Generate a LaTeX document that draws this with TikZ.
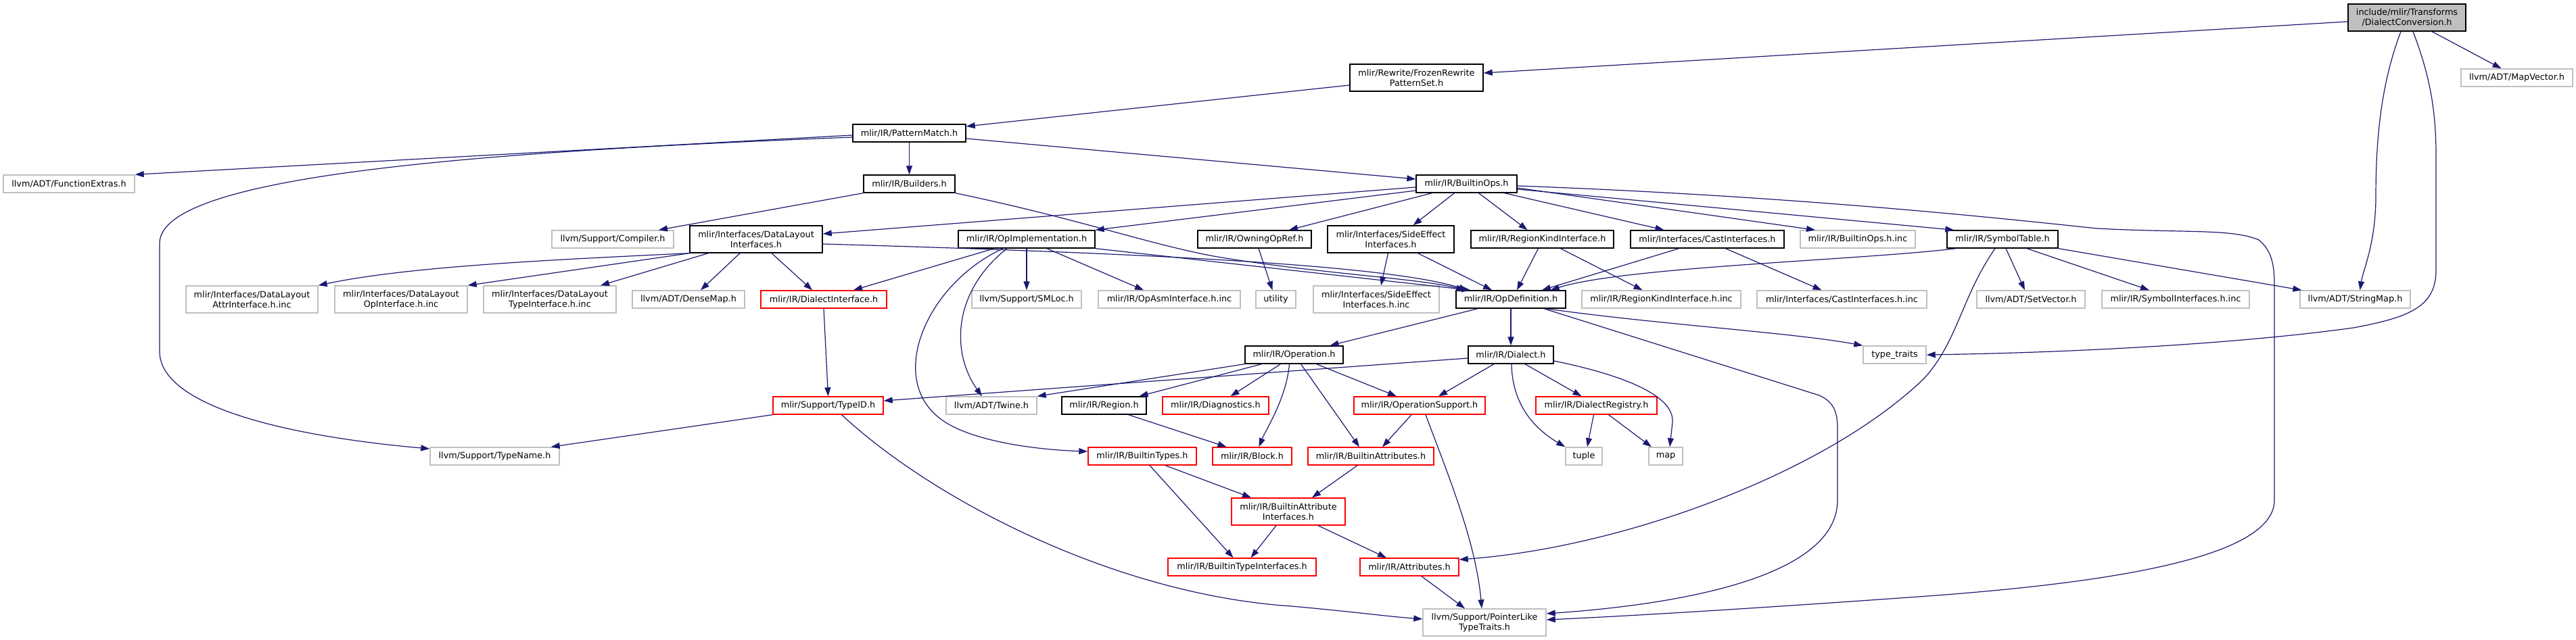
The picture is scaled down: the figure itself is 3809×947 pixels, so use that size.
\documentclass[tikz,border=0pt]{standalone}
\usepackage{fontspec}
\setmainfont{DejaVu Sans}
\usetikzlibrary{arrows.meta,calc}
\definecolor{edgeblue}{HTML}{191970}
\definecolor{boxgrey}{HTML}{BFBFBF}
\definecolor{dcfill}{HTML}{BFBFBF}
\newcommand{\nodefont}{\fontsize{12.8pt}{15pt}\selectfont}
\tikzset{
  nd/.style={rectangle, inner sep=0pt, font=\nodefont, align=center, line width=1.4pt, minimum height=26pt},
  two/.style={minimum height=40pt},
  bw/.style={minimum width=#1pt},
  blk/.style={nd, draw=black, fill=white},
  gry/.style={nd, draw=boxgrey, fill=white},
  rd/.style={nd, draw=red, fill=white},
  edg/.style={draw=edgeblue, line width=1.2pt, -{Triangle[length=13pt,width=9pt]}},
}
\begin{document}
\begin{tikzpicture}[x=1pt,y=-1pt]
\useasboundingbox (0,0) rectangle (3809,947);
% rank 0
\node[blk, two, bw=174, fill=dcfill] (dc) at (3559,26) {include/mlir/Transforms\\/DialectConversion.h};
% rank 1
\node[blk, two, bw=197] (fr) at (2094.5,115) {mlir/Rewrite/FrozenRewrite\\PatternSet.h};
\node[gry, bw=165] (mv) at (3721.5,115) {llvm/ADT/MapVector.h};
% rank 2
\node[blk, bw=167] (pm) at (1344.5,197) {mlir/IR/PatternMatch.h};
% rank 3
\node[gry, bw=194] (fe) at (102,272) {llvm/ADT/FunctionExtras.h};
\node[blk, bw=135] (bu) at (1344.5,272) {mlir/IR/Builders.h};
\node[blk, bw=149] (bo) at (2168.5,272) {mlir/IR/BuiltinOps.h};
% rank 4
\node[gry, bw=180] (cp) at (906,354) {llvm/Support/Compiler.h};
\node[blk, two, bw=196] (dli) at (1118,354) {mlir/Interfaces/DataLayout\\Interfaces.h};
\node[blk, bw=202] (oi) at (1518,354) {mlir/IR/OpImplementation.h};
\node[blk, bw=168] (oor) at (1855,354) {mlir/IR/OwningOpRef.h};
\node[blk, two, bw=187] (se) at (2056.5,354) {mlir/Interfaces/SideEffect\\Interfaces.h};
\node[blk, bw=211] (rk) at (2280.5,354) {mlir/IR/RegionKindInterface.h};
\node[blk, bw=227] (ci) at (2524.5,354) {mlir/Interfaces/CastInterfaces.h};
\node[gry, bw=170] (boi) at (2747,354) {mlir/IR/BuiltinOps.h.inc};
\node[blk, bw=164] (st) at (2961,354) {mlir/IR/SymbolTable.h};
% rank 5
\node[gry, two, bw=195] (dlattr) at (372.5,443) {mlir/Interfaces/DataLayout\\AttrInterface.h.inc};
\node[gry, two, bw=196] (dlop) at (593,443) {mlir/Interfaces/DataLayout\\OpInterface.h.inc};
\node[gry, two, bw=196] (dltype) at (813,443) {mlir/Interfaces/DataLayout\\TypeInterface.h.inc};
\node[gry, bw=166] (dm) at (1018,443) {llvm/ADT/DenseMap.h};
\node[rd, bw=186] (dint) at (1218,443) {mlir/IR/DialectInterface.h};
\node[gry, bw=162] (sm) at (1518,443) {llvm/Support/SMLoc.h};
\node[gry, bw=210] (oa) at (1729,443) {mlir/IR/OpAsmInterface.h.inc};
\node[gry, bw=59] (ut) at (1886.5,443) {utility};
\node[gry, two, bw=186] (sei) at (2035,443) {mlir/Interfaces/SideEffect\\Interfaces.h.inc};
\node[blk, bw=162] (od) at (2234,443) {mlir/IR/OpDefinition.h};
\node[gry, bw=235] (rki) at (2456.5,443) {mlir/IR/RegionKindInterface.h.inc};
\node[gry, bw=251] (cii) at (2723.5,443) {mlir/Interfaces/CastInterfaces.h.inc};
\node[gry, bw=160] (sv) at (3003,443) {llvm/ADT/SetVector.h};
\node[gry, bw=218] (si) at (3217,443) {mlir/IR/SymbolInterfaces.h.inc};
\node[gry, bw=163] (smap) at (3482.5,443) {llvm/ADT/StringMap.h};
% rank 6
\node[blk, bw=145] (op) at (1913.5,525) {mlir/IR/Operation.h};
\node[blk, bw=126] (dia) at (2234,525) {mlir/IR/Dialect.h};
\node[gry, bw=93] (tt) at (2801.5,525) {type\_traits};
% rank 7
\node[rd, bw=163] (tid) at (1224.5,600) {mlir/Support/TypeID.h};
\node[gry, bw=134] (tw) at (1466,600) {llvm/ADT/Twine.h};
\node[blk, bw=125] (rg) at (1632.5,600) {mlir/IR/Region.h};
\node[rd, bw=157] (dg) at (1797.5,600) {mlir/IR/Diagnostics.h};
\node[rd, bw=194] (os) at (2099,600) {mlir/IR/OperationSupport.h};
\node[rd, bw=179] (dr) at (2360.5,600) {mlir/IR/DialectRegistry.h};
% rank 8
\node[gry, bw=191] (tn) at (731.5,675) {llvm/Support/TypeName.h};
\node[rd, bw=160] (bt) at (1689,675) {mlir/IR/BuiltinTypes.h};
\node[rd, bw=117] (bl) at (1851.5,675) {mlir/IR/Block.h};
\node[rd, bw=186] (ba) at (2027,675) {mlir/IR/BuiltinAttributes.h};
\node[gry, bw=54] (tu) at (2342,675) {tuple};
\node[gry, bw=50] (mp) at (2463,675) {map};
% rank 9
\node[rd, two, bw=168] (bai) at (1905,757) {mlir/IR/BuiltinAttribute\\Interfaces.h};
% rank 10
\node[rd, bw=219] (bti) at (1836.5,839) {mlir/IR/BuiltinTypeInterfaces.h};
\node[rd, bw=146] (attr) at (2084,839) {mlir/IR/Attributes.h};
% rank 11
\node[gry, two, bw=182] (pl) at (2195,921) {llvm/Support/PointerLike\\TypeTraits.h};

% ---- edges ----
% DialectConversion
\draw[edg] ([yshift=-6pt]dc.west) -- ([yshift=7pt]fr.east);
\draw[edg] ([xshift=37pt]dc.south) -- ([xshift=-23pt]mv.north);
\draw[edg] ([xshift=-9pt]dc.south) .. controls (3522,120) and (3513,200) .. (3513,290) .. controls (3513,360) and (3494,400) .. ([xshift=7pt]smap.north);
\draw[edg] ([xshift=9pt]dc.south) .. controls (3592,110) and (3602,160) .. (3602,230) -- (3602,400) .. controls (3602,455) and (3560,470) .. (3480,485) .. controls (3300,510) and (3050,522) .. (tt.east);
% FrozenRewrite
\draw[edg] ([yshift=-11pt]fr.west) -- ([yshift=10pt]pm.east);
% PatternMatch
\draw[edg] ([yshift=-3pt]pm.west) -- (fe.north east);
\draw[edg] (pm.south) -- (bu.north);
\draw[edg] ([yshift=-8pt]pm.east) -- ([yshift=7pt]bo.west);
\draw[edg] ([yshift=-6pt]pm.west) .. controls (700,225) and (236,260) .. (236,360) -- (236,520) .. controls (236,600) and (420,645) .. ([yshift=11pt]tn.west);
% Builders
\draw[edg] (bu.south west) -- ([xshift=68pt]cp.north);
\draw[edg] (bu.south east) .. controls (1600,325) and (1700,362) .. (1800,380) .. controls (1950,405) and (2100,412) .. ([xshift=14pt]od.north west);
% BuiltinOps
\draw[edg] ([yshift=-5pt]bo.west) -- ([yshift=8pt]dli.east);
\draw[edg] ([yshift=-10pt]bo.west) -- (oi.north east);
\draw[edg] ([xshift=-51pt]bo.south) -- ([xshift=51pt]oor.north);
\draw[edg] ([xshift=-18pt]bo.south) -- ([xshift=33pt]se.north);
\draw[edg] ([xshift=18pt]bo.south) -- ([xshift=-22pt]rk.north);
\draw[edg] ([xshift=56pt]bo.south) -- ([xshift=-64pt]ci.north);
\draw[edg] ([yshift=-6pt]bo.east) -- ([xshift=-63pt]boi.north);
\draw[edg] ([yshift=-8pt]bo.east) -- ([xshift=11pt]st.north west);
\draw[edg] ([yshift=-3pt]bo.east) .. controls (2650,290) and (2950,322) .. (3100,338) .. controls (3230,345) and (3300,338) .. (3340,355) .. controls (3358,370) and (3363,390) .. (3363,420) -- (3363,740) .. controls (3363,820) and (3150,860) .. (2850,882) .. controls (2600,900) and (2400,912) .. ([yshift=4pt]pl.east);
% OpImplementation
\draw[edg] ([xshift=-48pt]oi.south) -- ([xshift=44pt]dint.north);
\draw[edg] (oi.south) -- (sm.north);
\draw[edg] ([xshift=30pt]oi.south) -- ([xshift=-38pt]oa.north);
\draw[edg] ([xshift=-29pt]oi.south) .. controls (1410,430) and (1405,520) .. ([xshift=-14pt]tw.north);
\draw[edg] ([xshift=-35pt]oi.south) .. controls (1370,420) and (1310,560) .. (1391,620) .. controls (1430,650) and (1520,665) .. ([yshift=7pt]bt.west);
\draw[edg] (oi.south east) -- ([xshift=22pt]od.north west);
% DataLayout interfaces
\draw[edg] ([yshift=-7pt]dli.east) .. controls (1700,375) and (2050,392) .. ([xshift=18pt]od.north west);
\draw[edg] (dli.south west) .. controls (800,385) and (600,395) .. (dlattr.north east);
\draw[edg] (dli.south west) -- (dlop.north east);
\draw[edg] ([xshift=28pt]dli.south west) -- ([xshift=75pt]dltype.north);
\draw[edg] ([xshift=-24pt]dli.south) -- ([xshift=18pt]dm.north);
\draw[edg] ([xshift=23pt]dli.south) -- ([xshift=-17pt]dint.north);
% OwningOpRef
\draw[edg] ([xshift=6pt]oor.south) -- ([xshift=-5pt]ut.north);
% SideEffect
\draw[edg] ([xshift=-4pt]se.south) -- ([xshift=7pt]sei.north);
\draw[edg] ([xshift=40pt]se.south) -- ([xshift=-28pt]od.north);
% RegionKind
\draw[edg] ([xshift=-6pt]rk.south) -- ([xshift=9pt]od.north);
\draw[edg] ([xshift=27pt]rk.south) -- ([xshift=-28pt]rki.north);
% CastInterfaces
\draw[edg] ([xshift=-42pt]ci.south) -- ([xshift=46pt]od.north);
\draw[edg] ([xshift=27pt]ci.south) -- ([xshift=-30pt]cii.north);
% SymbolTable
\draw[edg] ([xshift=14pt]st.south west) .. controls (2750,385) and (2400,395) .. ([xshift=-23pt]od.north east);
\draw[edg] ([xshift=5pt]st.south) -- ([xshift=-9pt]sv.north);
\draw[edg] ([xshift=36pt]st.south) -- ([xshift=-39pt]si.north);
\draw[edg] (st.south east) -- ([xshift=3pt]smap.north west);
\draw[edg] ([xshift=-11pt]st.south) .. controls (2900,440) and (2895,505) .. (2845,560) .. controls (2700,700) and (2400,810) .. ([yshift=11pt]attr.east);
% OpDefinition
\draw[edg] ([xshift=-49pt]od.south) -- ([xshift=53pt]op.north);
\draw[edg] (od.south) -- (dia.north);
\draw[edg] ([xshift=52pt]od.south) .. controls (2450,480) and (2650,492) .. (tt.north west);
\draw[edg] ([xshift=49pt]od.south) -- (2690,585) .. controls (2712,595) and (2717,610) .. (2717,635) -- (2717,740) .. controls (2717,850) and (2500,893) .. ([yshift=13pt]pl.east);
% Operation
\draw[edg] (op.south west) -- (tw.north east);
\draw[edg] ([xshift=-48pt]op.south) -- ([xshift=52pt]rg.north);
\draw[edg] ([xshift=-20pt]op.south) -- ([xshift=22pt]dg.north);
\draw[edg] ([xshift=-7pt]op.south) .. controls (1902,590) and (1872,635) .. ([xshift=10pt]bl.north);
\draw[edg] ([xshift=33pt]op.south) -- ([xshift=-34pt]os.north);
\draw[edg] ([xshift=10pt]op.south) -- ([xshift=-17pt]ba.north);
% Dialect
\draw[edg] ([yshift=-5pt]dia.west) -- ([yshift=7pt]tid.east);
\draw[edg] ([xshift=-25pt]dia.south) -- ([xshift=28pt]os.north);
\draw[edg] ([xshift=21pt]dia.south) -- ([xshift=-22pt]dr.north);
\draw[edg] ([xshift=1pt]dia.south) .. controls (2236,600) and (2270,635) .. (tu.north west);
\draw[edg] ([yshift=-9pt]dia.east) .. controls (2400,555) and (2476,585) .. (2473,625) -- ([xshift=6pt]mp.north);
% DialectRegistry
\draw[edg] ([xshift=-4pt]dr.south) -- ([xshift=5pt]tu.north);
\draw[edg] ([xshift=18pt]dr.south) -- ([xshift=-21pt]mp.north);
% OperationSupport
\draw[edg] ([xshift=-12pt]os.south) -- ([xshift=17pt]ba.north);
\draw[edg] ([xshift=9pt]os.south) .. controls (2140,700) and (2182,800) .. ([xshift=-4pt]pl.north);
% Region
\draw[edg] ([xshift=36pt]rg.south) -- ([xshift=-38pt]bl.north);
% DialectInterface
\draw[edg] (dint.south) -- (tid.north);
% TypeID
\draw[edg] (tid.south west) -- ([xshift=-13pt]tn.north east);
\draw[edg] ([xshift=20pt]tid.south) .. controls (1380,740) and (1650,880) .. (1910,897) .. controls (2000,905) and (2050,912) .. ([yshift=5pt]pl.west);
% Attributes
\draw[edg] ([xshift=18pt]attr.south) -- ([xshift=-29pt]pl.north);
% BuiltinAttributes
\draw[edg] ([xshift=-20pt]ba.south) -- ([xshift=35pt]bai.north);
% BuiltinAttributeInterfaces
\draw[edg] ([xshift=44pt]bai.south) -- ([xshift=-34pt]attr.north);
\draw[edg] ([xshift=-18pt]bai.south) -- ([xshift=13pt]bti.north);
% BuiltinTypes
\draw[edg] ([xshift=11pt]bt.south) -- ([xshift=-13pt]bti.north);
\draw[edg] ([xshift=34pt]bt.south) -- ([xshift=-55pt]bai.north);
\end{tikzpicture}
\end{document}
